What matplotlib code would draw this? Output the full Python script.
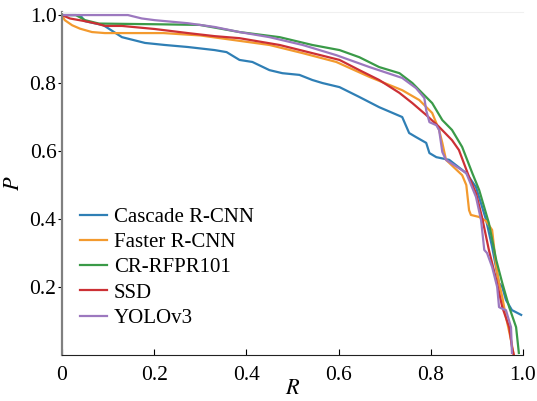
import matplotlib
matplotlib.use('Agg')
import matplotlib.pyplot as plt

plt.rcParams['font.family'] = ['Liberation Serif', 'DejaVu Serif']
plt.rcParams['mathtext.fontset'] = 'stix'

# recall / precision points
cascade_r = [0, 0.039, 0.05, 0.09, 0.13, 0.18, 0.223, 0.273, 0.331, 0.357, 0.385, 0.413, 0.45, 0.478,
             0.515, 0.543, 0.565, 0.602, 0.645, 0.688, 0.738, 0.753, 0.768, 0.79, 0.797, 0.812,
             0.84, 0.877, 0.898, 0.92, 0.933, 0.948, 0.955, 0.963, 0.976, 0.996]
cascade_p = [1.0, 1.0, 0.982, 0.97, 0.935, 0.918, 0.912, 0.906, 0.897, 0.891, 0.868, 0.862, 0.838, 0.829,
             0.824, 0.809, 0.8, 0.788, 0.759, 0.729, 0.7, 0.653, 0.641, 0.624, 0.594, 0.582,
             0.574, 0.535, 0.494, 0.397, 0.318, 0.212, 0.2, 0.162, 0.132, 0.118]

faster_r = [0, 0.006, 0.022, 0.039, 0.065, 0.093, 0.22, 0.3, 0.45, 0.522, 0.595, 0.667, 0.738, 0.775,
            0.803, 0.818, 0.825, 0.833, 0.868, 0.877, 0.883, 0.887, 0.905, 0.92, 0.933, 0.942,
            0.948, 0.955, 0.963, 0.974, 0.98]
faster_p = [1.0, 0.985, 0.97, 0.96, 0.95, 0.947, 0.947, 0.94, 0.912, 0.888, 0.862, 0.818, 0.779, 0.75,
            0.712, 0.662, 0.624, 0.574, 0.529, 0.5, 0.426, 0.412, 0.406, 0.394, 0.368, 0.259,
            0.212, 0.171, 0.112, 0.044, 0.0]

crrfpr_r = [0, 0.03, 0.05, 0.08, 0.2, 0.299, 0.385, 0.472, 0.543, 0.602, 0.645, 0.688, 0.732, 0.76,
            0.781, 0.803, 0.825, 0.846, 0.868, 0.89, 0.905, 0.926, 0.942, 0.955, 0.97, 0.985, 0.991]
crrfpr_p = [1.0, 1.0, 0.985, 0.975, 0.973, 0.971, 0.95, 0.935, 0.912, 0.897, 0.876, 0.847, 0.829, 0.8,
            0.771, 0.741, 0.691, 0.662, 0.612, 0.535, 0.485, 0.388, 0.279, 0.212, 0.141, 0.082, 0.006]

ssd_r = [0, 0.017, 0.05, 0.078, 0.093, 0.13, 0.201, 0.273, 0.331, 0.385, 0.472, 0.543, 0.602, 0.645,
         0.688, 0.732, 0.76, 0.79, 0.818, 0.846, 0.861, 0.883, 0.898, 0.911, 0.926, 0.942, 0.955,
         0.97, 0.976, 0.98]
ssd_p = [1.0, 0.99, 0.982, 0.974, 0.968, 0.968, 0.959, 0.947, 0.938, 0.932, 0.912, 0.888, 0.868, 0.838,
         0.809, 0.771, 0.741, 0.706, 0.671, 0.632, 0.603, 0.524, 0.476, 0.406, 0.309, 0.221, 0.141,
         0.082, 0.024, 0.0]

yolo_r = [0, 0.143, 0.173, 0.201, 0.273, 0.331, 0.385, 0.45, 0.522, 0.595, 0.667, 0.738, 0.768, 0.786,
          0.79, 0.797, 0.812, 0.818, 0.825, 0.833, 0.857, 0.877, 0.898, 0.909, 0.916, 0.922, 0.933,
          0.944, 0.948, 0.952, 0.963, 0.974, 0.976]
yolo_p = [1.0, 1.0, 0.99, 0.985, 0.976, 0.965, 0.95, 0.935, 0.912, 0.882, 0.847, 0.815, 0.785, 0.756,
          0.72, 0.685, 0.676, 0.662, 0.597, 0.574, 0.553, 0.535, 0.465, 0.397, 0.309, 0.3, 0.259,
          0.2, 0.141, 0.138, 0.132, 0.082, 0.006]

series = [
    ('Cascade R-CNN', cascade_r, cascade_p, '#2f7fb5'),
    ('Faster R-CNN', faster_r, faster_p, '#f39a2e'),
    ('CR-RFPR101', crrfpr_r, crrfpr_p, '#3a9a48'),
    ('SSD', ssd_r, ssd_p, '#cc3035'),
    ('YOLOv3', yolo_r, yolo_p, '#9c78bf'),
]

xticks = [0, 0.2, 0.4, 0.6, 0.8, 1.0]
xtick_labels = ['0', '0.2', '0.4', '0.6', '0.8', '1.0']
yticks = [0.2, 0.4, 0.6, 0.8, 1.0]
ytick_labels = ['0.2', '0.4', '0.6', '0.8', '1.0']

fig = plt.figure(figsize=(5.37, 4.01), dpi=100)
ax = fig.add_axes([62 / 537, 46 / 401, 461 / 537, 343 / 401])

for name, r, p, c in series:
    ax.plot(r, p, color=c, lw=1.6, label=name)

ax.set_xlim(0, 1.0)
ax.set_ylim(0, 1.009)
ax.set_xticks(xticks)
ax.set_xticklabels(xtick_labels)
ax.set_yticks(yticks)
ax.set_yticklabels(ytick_labels)
ax.tick_params(axis='x', direction='in', length=4, labelsize=15.5, pad=8)
ax.tick_params(axis='y', direction='out', length=3, labelsize=15.5, pad=1)

ax.spines['right'].set_visible(False)
ax.spines['top'].set_color('#f0f0f0')
ax.spines['left'].set_color('#808080')
ax.spines['left'].set_linewidth(1.6)
ax.spines['bottom'].set_color('#222222')

ax.set_xlabel('$R$', fontsize=16, labelpad=-4)
ax.set_ylabel('$P$', fontsize=16, labelpad=4)

ax.legend(loc='lower left', bbox_to_anchor=(0.02, 0.055), frameon=False, fontsize=15,
          handlelength=1.3, handletextpad=0.35, labelspacing=0.27, borderaxespad=0)

fig.savefig('out.png', dpi=100)
